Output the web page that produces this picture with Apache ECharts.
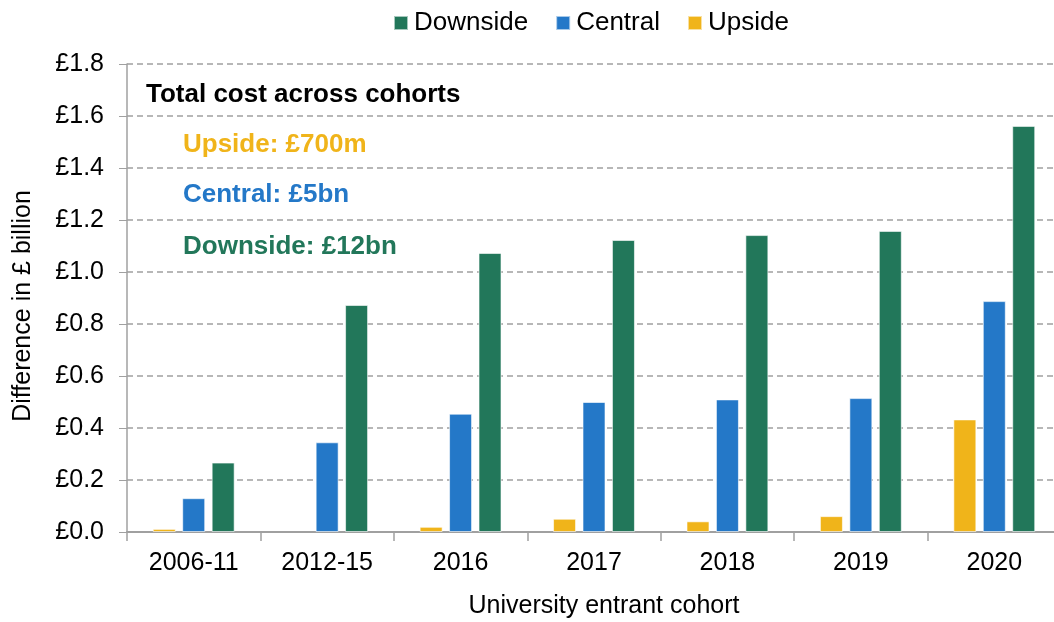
<!DOCTYPE html>
<html>
<head>
<meta charset="utf-8">
<script src="https://cdn.jsdelivr.net/npm/echarts@6/dist/echarts.min.js"></script>
<style>
  html, body { margin: 0; padding: 0; background: #fff; }
  #chart { width: 1054px; height: 622px; }
</style>
</head>
<body>
<div id="chart"></div>
<script>
// cohorts on the x axis
const cohorts = ['2006-11', '2012-15', '2016', '2017', '2018', '2019', '2020']
// difference in £ billion
const upside = [0.012, -0.003, 0.02, 0.051, 0.041, 0.061, 0.433]
const central = [0.13, 0.345, 0.455, 0.50, 0.51, 0.515, 0.888]
const downside = [0.267, 0.873, 1.073, 1.123, 1.142, 1.158, 1.562]
const notes = ['Total cost across cohorts', 'Upside: £700m', 'Central: £5bn', 'Downside: £12bn']

const FONT = '"Liberation Sans", Arial, sans-serif'
const colors = { down: '#22775A', central: '#2478C8', up: '#F0B41A' }

const chart = echarts.init(document.getElementById('chart'))

function bar(name, data, color) {
  return {
    name: name,
    type: 'bar',
    data: data,
    barWidth: 23,
    barGap: '28%',
    itemStyle: { color: color, borderColor: 'rgba(255,255,255,0.6)', borderWidth: 1 }
  }
}

function note(text, top, color, left) {
  return {
    type: 'text', left: left, top: top,
    style: { text: text, fontSize: 26, fontWeight: 'bold', fill: color, fontFamily: FONT }
  }
}

chart.setOption({
  animation: false,
  textStyle: { fontFamily: FONT },
  legend: {
    top: 5,
    left: 388,
    itemWidth: 14,
    itemHeight: 14,
    itemGap: 27,
    icon: 'rect',
    data: ['Downside', 'Central', 'Upside'],
    textStyle: { fontSize: 26, color: '#000', fontFamily: FONT, padding: [0, 0, 0, 1] }
  },
  grid: { left: 127, right: -7, top: 64, bottom: 90, outerBoundsMode: 'none' },
  xAxis: {
    type: 'category',
    data: cohorts,
    name: 'University entrant cohort',
    nameLocation: 'middle',
    nameGap: 62,
    nameTextStyle: { fontSize: 25, color: '#000', fontFamily: FONT, padding: [0, 0, 0, 20] },
    axisLine: { lineStyle: { color: '#A0A0A0', width: 2 } },
    axisTick: { show: true, length: 9, lineStyle: { color: '#A0A0A0', width: 1.5 } },
    axisLabel: { fontSize: 25, color: '#000', margin: 19, fontFamily: FONT }
  },
  yAxis: {
    type: 'value',
    min: 0,
    max: 1.8,
    interval: 0.2,
    name: 'Difference in £ billion',
    nameLocation: 'middle',
    nameGap: 91,
    nameTextStyle: { fontSize: 25, color: '#000', fontFamily: FONT, padding: [0, 16, 0, 0] },
    axisLine: { show: true, lineStyle: { color: '#A0A0A0', width: 1.5 } },
    axisTick: { show: true, length: 8, lineStyle: { color: '#A0A0A0' } },
    axisLabel: {
      fontSize: 25, color: '#000', margin: 23, fontFamily: FONT,
      formatter: v => '£' + v.toFixed(1)
    },
    splitLine: { lineStyle: { color: '#A0A0A0', type: [6, 4], width: 1.5 } }
  },
  graphic: [
    note(notes[0], 82, '#000', 146),
    note(notes[1], 132, colors.up, 183),
    note(notes[2], 182, colors.central, 183),
    note(notes[3], 234, colors.down, 183)
  ],
  series: [
    bar('Upside', upside, colors.up),
    bar('Central', central, colors.central),
    bar('Downside', downside, colors.down)
  ]
})
</script>
</body>
</html>
